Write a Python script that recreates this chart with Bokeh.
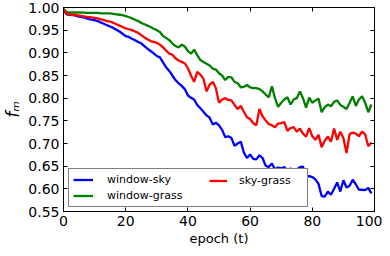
import math
from bokeh.plotting import figure
from bokeh.models import (LinearAxis, SingleIntervalTicker, PrintfTickFormatter,
                          Legend, LegendItem, Range1d)
from bokeh.embed import file_html
from bokeh.resources import INLINE

epochs = list(range(100))

window_sky = [
    0.995, 0.985, 0.984, 0.983, 0.982, 0.980, 0.979, 0.977, 0.975, 0.973,
    0.972, 0.970, 0.967, 0.964, 0.961, 0.958, 0.955, 0.951, 0.947, 0.942,
    0.937, 0.935, 0.931, 0.928, 0.924, 0.921, 0.915, 0.909, 0.904, 0.899,
    0.893, 0.890, 0.879, 0.868, 0.860, 0.850, 0.840, 0.833, 0.827, 0.820,
    0.806, 0.801, 0.797, 0.785, 0.778, 0.770, 0.762, 0.757, 0.742, 0.746,
    0.740, 0.730, 0.714, 0.716, 0.712, 0.695, 0.700, 0.704, 0.680, 0.668,
    0.676, 0.666, 0.665, 0.674, 0.668, 0.651, 0.648, 0.656, 0.643, 0.647,
    0.645, 0.648, 0.640, 0.645, 0.641, 0.643, 0.648, 0.649, 0.627, 0.628,
    0.626, 0.621, 0.611, 0.584, 0.583, 0.594, 0.587, 0.600, 0.614, 0.594,
    0.619, 0.603, 0.607, 0.620, 0.610, 0.598, 0.598, 0.597, 0.602, 0.590,
]

window_grass = [
    0.997, 0.990, 0.989, 0.989, 0.989, 0.989, 0.989, 0.988, 0.988, 0.988,
    0.988, 0.988, 0.987, 0.987, 0.987, 0.987, 0.986, 0.985, 0.984, 0.983,
    0.981, 0.979, 0.976, 0.973, 0.970, 0.966, 0.963, 0.960, 0.957, 0.953,
    0.950, 0.946, 0.937, 0.933, 0.928, 0.921, 0.915, 0.912, 0.918, 0.914,
    0.904, 0.898, 0.907, 0.895, 0.884, 0.880, 0.876, 0.872, 0.865, 0.863,
    0.855, 0.850, 0.840, 0.847, 0.846, 0.836, 0.833, 0.824, 0.825, 0.829,
    0.824, 0.822, 0.822, 0.820, 0.815, 0.808, 0.802, 0.826, 0.800, 0.781,
    0.790, 0.797, 0.802, 0.786, 0.797, 0.800, 0.815, 0.800, 0.779, 0.801,
    0.790, 0.795, 0.799, 0.769, 0.780, 0.786, 0.782, 0.792, 0.795, 0.785,
    0.781, 0.776, 0.790, 0.804, 0.783, 0.797, 0.804, 0.790, 0.769, 0.786,
]

sky_grass = [
    0.996, 0.986, 0.985, 0.984, 0.983, 0.982, 0.981, 0.980, 0.979, 0.978,
    0.977, 0.976, 0.974, 0.972, 0.970, 0.969, 0.966, 0.963, 0.960, 0.957,
    0.954, 0.952, 0.950, 0.947, 0.944, 0.939, 0.934, 0.930, 0.926, 0.924,
    0.922, 0.918, 0.912, 0.905, 0.898, 0.896, 0.888, 0.883, 0.880, 0.877,
    0.866, 0.850, 0.836, 0.858, 0.852, 0.843, 0.815, 0.830, 0.836, 0.822,
    0.790, 0.797, 0.800, 0.796, 0.795, 0.785, 0.776, 0.783, 0.770, 0.758,
    0.754, 0.745, 0.740, 0.776, 0.760, 0.751, 0.743, 0.740, 0.736, 0.744,
    0.745, 0.747, 0.728, 0.734, 0.736, 0.726, 0.733, 0.722, 0.715, 0.734,
    0.716, 0.708, 0.719, 0.692, 0.706, 0.715, 0.704, 0.733, 0.708, 0.726,
    0.712, 0.679, 0.721, 0.724, 0.722, 0.716, 0.726, 0.720, 0.694, 0.702,
]

x_label = "epoch (t)"
y_label = "f\u2098"
FONT = "DejaVu Sans"

p = figure(width=382, height=248, x_range=Range1d(0, 100), y_range=Range1d(0.55, 1.0),
           output_backend="svg", toolbar_location=None,
           min_border_left=62, min_border_right=8, min_border_top=7, min_border_bottom=34)
p.grid.visible = False
p.outline_line_color = "black"
p.background_fill_color = "white"

r_ws = p.line(epochs, window_sky, line_color="#0000ff", line_width=2.3)
r_wg = p.line(epochs, window_grass, line_color="#008000", line_width=2.3)
r_sg = p.line(epochs, sky_grass, line_color="#ff0000", line_width=2.3)


def style_axis(ax, labels=True):
    ax.axis_line_color = "black"
    ax.major_tick_line_color = "black"
    ax.major_tick_in = 4
    ax.major_tick_out = 0
    ax.minor_tick_line_color = None
    ax.major_label_text_font = FONT
    if labels:
        ax.major_label_text_color = "black"
        ax.major_label_text_font_size = "14px"
        ax.major_label_standoff = 4
    else:
        ax.major_label_text_color = None
        ax.major_label_text_font_size = "0px"
        ax.major_label_standoff = 0


xa = p.xaxis[0]
xa.ticker = SingleIntervalTicker(interval=20, num_minor_ticks=0)
style_axis(xa)
xa.axis_label = x_label
xa.axis_label_text_font = FONT
xa.axis_label_text_font_size = "13px"
xa.axis_label_text_font_style = "normal"
xa.axis_label_text_color = "black"
xa.axis_label_standoff = 2
xa.major_label_standoff = 4

ya = p.yaxis[0]
ya.ticker = SingleIntervalTicker(interval=0.05, num_minor_ticks=0)
ya.formatter = PrintfTickFormatter(format="%.2f")
style_axis(ya)
ya.axis_label = y_label
ya.axis_label_text_font = FONT
ya.axis_label_text_font_size = "17px"
ya.axis_label_text_font_style = "italic"
ya.axis_label_text_color = "black"
ya.axis_label_standoff = 2

top = LinearAxis(ticker=SingleIntervalTicker(interval=20, num_minor_ticks=0))
style_axis(top, labels=False)
p.add_layout(top, "above")
right = LinearAxis(ticker=SingleIntervalTicker(interval=0.05, num_minor_ticks=0))
style_axis(right, labels=False)
p.add_layout(right, "right")

leg_a = Legend(items=[LegendItem(label="window-sky", renderers=[r_ws]),
                      LegendItem(label="window-grass", renderers=[r_wg])],
               location=(5, 4), padding=4, spacing=3, margin=0,
               label_height=13, glyph_height=13, glyph_width=20, label_standoff=14,
               label_width=196, label_text_font=FONT, label_text_font_size="11px",
               label_text_color="black",
               border_line_color="black", border_line_width=1,
               background_fill_color="white", background_fill_alpha=1.0)
leg_b = Legend(items=[LegendItem(label="sky-grass", renderers=[r_sg])],
               location=(146, 24), padding=0, spacing=0, margin=0,
               label_height=13, glyph_height=13, glyph_width=18, label_standoff=12,
               label_text_font=FONT, label_text_font_size="11px", label_text_color="black",
               border_line_alpha=0, background_fill_alpha=0)
p.add_layout(leg_a, "center")
p.add_layout(leg_b, "center")

open("out.html", "w").write(file_html(p, INLINE))
